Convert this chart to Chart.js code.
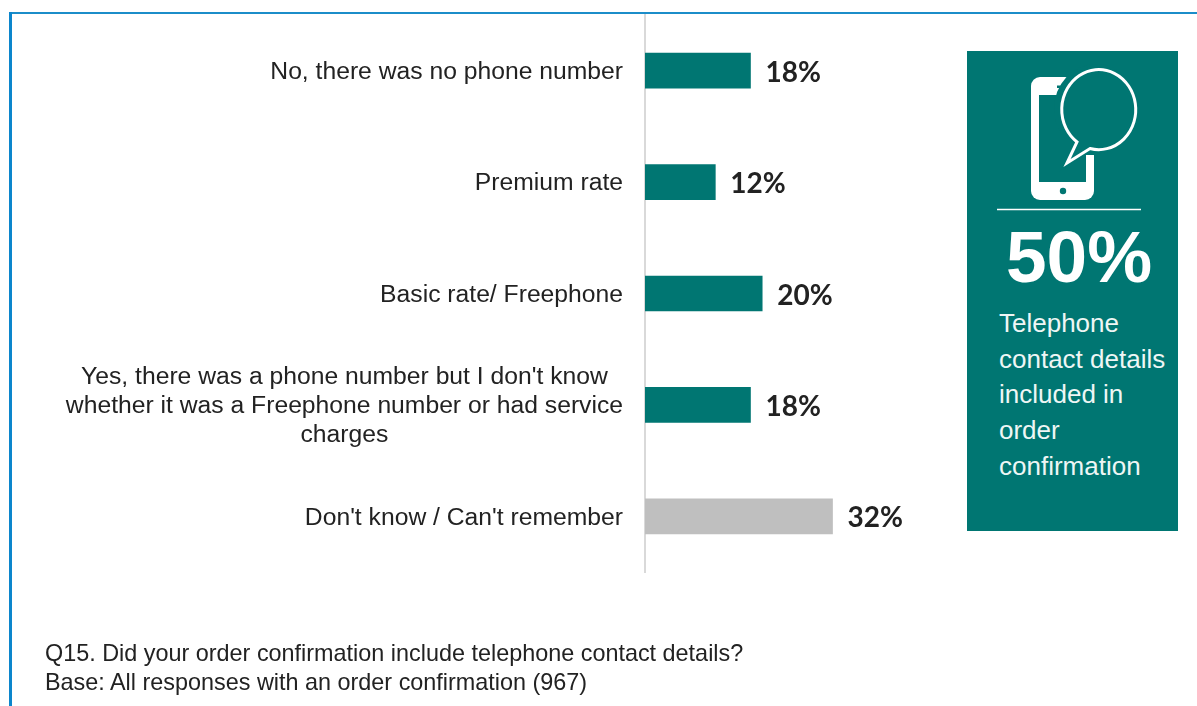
<!DOCTYPE html>
<html>
<head>
<meta charset="utf-8">
<style>
  html, body { margin: 0; padding: 0; background: #fff; overflow: hidden; }
  #wrap { position: relative; width: 1197px; height: 706px; }
  canvas { position: absolute; left: 0; top: 0; }
  .frame-top { position: absolute; left: 9px; top: 12px; width: 1188px; height: 2px; background: #1b8dc9; }
  .frame-left { position: absolute; left: 9px; top: 12px; width: 3px; height: 694px; background: #0c86cc; }
  .panel { position: absolute; left: 967px; top: 51px; width: 211px; height: 480px; background: #007672; color: #fff; font-family: "Liberation Sans", Arial, sans-serif; }
  .panel svg { position: absolute; left: 0; top: 0; }
  .stat { position: absolute; left: 39px; top: 167px; font-size: 73px; font-weight: 700; line-height: 78px; }
  .desc { position: absolute; left: 32px; top: 255px; width: 178px; font-size: 26px; line-height: 35.7px; color: #eef6f5; }
  .note { position: absolute; left: 45px; font-family: "Liberation Sans", Arial, sans-serif; font-size: 23.4px; line-height: 24px; color: #222; white-space: nowrap; }
</style>
</head>
<body>
<div id="wrap">
  <canvas id="chart" width="1197" height="706"></canvas>
  <div class="frame-top"></div>
  <div class="frame-left"></div>
  <div class="panel">
    <svg width="211" height="170" viewBox="967 51 211 170">
      <!-- handset -->
      <rect x="1031" y="77" width="63" height="123" rx="9" fill="#fff"/>
      <rect x="1039" y="95" width="47" height="87" fill="#007672"/>
      <circle cx="1063" cy="191" r="3.2" fill="#007672"/>
      <rect x="1057" y="85.5" width="8" height="2.5" fill="#007672"/>
      <!-- clear space around the speech bubble -->
      <ellipse cx="1096" cy="109" rx="42" ry="45" fill="#007672"/>
      <rect x="1085" y="130" width="10" height="25" fill="#007672"/>
      <path d="M1067 163 L1077 142 L1090 148 Z" fill="#007672" stroke="#007672" stroke-width="6"/>
      <!-- speech bubble -->
      <path d="M1077 142 A37 40 0 1 1 1090 148.5 L1067 163 Z" fill="#007672" stroke="#fff" stroke-width="3" stroke-linejoin="miter"/>
      <line x1="997" y1="209.5" x2="1141" y2="209.5" stroke="#fff" stroke-width="1.5"/>
    </svg>
    <div class="stat">50%</div>
    <div class="desc">Telephone contact details included in order confirmation</div>
  </div>
  <div class="note" style="top:641px">Q15. Did your order confirmation include telephone contact details?</div>
  <div class="note" style="top:670px">Base: All responses with an order confirmation (967)</div>
</div>
<script src="https://cdn.jsdelivr.net/npm/chart.js@4"></script>
<script>
const categories = [
  ["No, there was no phone number"],
  ["Premium rate"],
  ["Basic rate/ Freephone"],
  ["Yes, there was a phone number but I don't know", "whether it was a Freephone number or had service", "charges"],
  ["Don't know / Can't remember"]
];
const shares = [18, 12, 20, 18, 32];
const barColors = ["#007672", "#007672", "#007672", "#007672", "#bfbfbf"];

// Single lines end just short of the axis; wrapped labels are centred as one block.
const categoryLabels = {
  id: "categoryLabels",
  afterDraw(chart) {
    const { ctx, scales: { y } } = chart;
    const right = y.right - 22;
    const lineHeight = 29;
    ctx.save();
    ctx.font = '24.7px "Liberation Sans", Arial, sans-serif';
    ctx.fillStyle = "#222";
    ctx.textBaseline = "middle";
    ctx.textAlign = "center";
    categories.forEach((lines, i) => {
      const cy = y.getPixelForTick(i) + 1.5;
      const widest = Math.max(...lines.map(l => ctx.measureText(l).width));
      lines.forEach((line, j) => {
        const ly = cy + (j - (lines.length - 1) / 2) * lineHeight;
        ctx.fillText(line, right - widest / 2, ly);
      });
    });
    ctx.restore();
  }
};

// Percentage printed just past the end of each bar.
const valueLabels = {
  id: "valueLabels",
  afterDatasetsDraw(chart) {
    const { ctx } = chart;
    const meta = chart.getDatasetMeta(0);
    ctx.save();
    ctx.font = '700 28px Lato, sans-serif';
    ctx.fillStyle = "#222";
    ctx.textAlign = "left";
    ctx.textBaseline = "middle";
    meta.data.forEach((bar, i) => {
      ctx.fillText(shares[i] + "%", bar.x + 15, bar.y + 2);
    });
    ctx.restore();
  }
};

new Chart(document.getElementById("chart"), {
  type: "bar",
  data: {
    labels: categories.map(lines => lines.join(" ")),
    datasets: [{ data: shares, backgroundColor: barColors, barThickness: 35 }]
  },
  options: {
    indexAxis: "y",
    responsive: false,
    animation: false,
    layout: { padding: { left: 0, right: 259, top: 15, bottom: 134 } },
    plugins: { legend: { display: false }, tooltip: { enabled: false } },
    scales: {
      x: { display: false, min: 0, max: 50 },
      y: {
        afterFit(scale) { scale.width = 645; },
        grid: { display: false },
        ticks: { display: false },
        border: { color: "#d9d9d9", width: 2 }
      }
    }
  },
  plugins: [categoryLabels, valueLabels]
});
</script>
</body>
</html>
